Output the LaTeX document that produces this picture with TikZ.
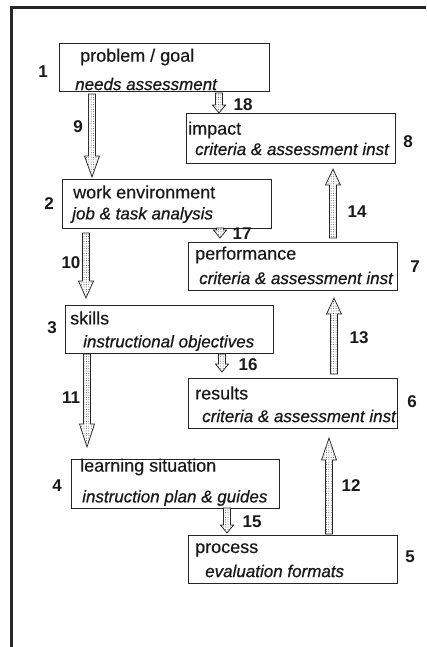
\documentclass[tikz,border=0pt]{standalone}
\usepackage{fontspec}
\setmainfont{Liberation Sans}
\newfontfamily\titlefont[FakeBold=0.25]{Liberation Sans}
\newfontfamily\subfont[ItalicFeatures={FakeBold=0.7}]{Liberation Sans}
\usetikzlibrary{patterns.meta,calc}

% Vertical block arrow with a stippled fill, from one node to another.
% #1 shaft half-width, #2 head half-width, #3 head length, #4 x position,
% #5 start anchor, #6 end anchor, #7 gap at start, #8 gap at tip
\newcommand\blockarrow[8]{%
  \path[stipplearrow] let \p1=(#5), \p2=(#6),
    \n1={ifthenelse(\y2>\y1,1,-1)},
    \n2={\y1+\n1*(#7pt)}, \n3={\y2-\n1*(#8pt)}, \n4={\n3-\n1*(#3pt)} in
    ({#4pt-#1pt},{\n2*1pt}) -- ({#4pt-#1pt},{\n4*1pt}) -- ({#4pt-#2pt},{\n4*1pt})
    -- ({#4pt},{\n3*1pt}) -- ({#4pt+#2pt},{\n4*1pt}) -- ({#4pt+#1pt},{\n4*1pt})
    -- ({#4pt+#1pt},{\n2*1pt}) -- cycle;}
\newcommand\bigarrow[6]{\blockarrow{3.6}{7.5}{#6}{#1}{#2}{#3}{#4}{#5}}
\newcommand\smallarrow[5]{\blockarrow{3.4}{6.5}{8}{#1}{#2}{#3}{#4}{#5}}

\begin{document}
\begin{tikzpicture}[x=1pt,y=-1pt,
  stagebox/.style args={#1x#2}{draw=black!85, line width=1.1pt, anchor=north west,
    inner sep=0pt, minimum width=#1pt, minimum height=#2pt},
  stipplearrow/.style={draw=black!85, line width=0.75pt, fill=white,
    postaction={pattern={Dots[distance=2.4pt,radius=0.5pt]}, pattern color=black!65}},
  title/.style={anchor=west, inner sep=0pt, text=black!90,
    font=\titlefont\fontsize{18}{20}\selectfont},
  subtitle/.style={anchor=west, inner sep=0pt, text=black!90,
    font=\subfont\fontsize{17}{19}\selectfont\itshape},
  num/.style={inner sep=0pt, text=black!90, font=\fontsize{17}{19}\selectfont\bfseries}]

\useasboundingbox (0,0) rectangle (426,647);
\fill[white] (0,0) rectangle (426,647);

% frame
\draw[line width=3pt, black!85] (11,647) -- (11,8) -- (426,8);

% stage boxes
\node[stagebox=210x48] (b1) at (59,43) {};
\node[stagebox=209x49] (b2) at (62,179) {};
\node[stagebox=208x48] (b3) at (65,305) {};
\node[stagebox=208x49] (b4) at (71,459) {};
\node[stagebox=209x48] (b5) at (188,535) {};
\node[stagebox=209x50] (b6) at (188,378) {};
\node[stagebox=209x48] (b7) at (188,242) {};
\node[stagebox=209x50] (b8) at (186,113) {};

% box texts
\node[title] (t1) at (80,57) {problem / goal};
\node[subtitle] (s1) at (75,84) {needs assessment};
\node[title] (t2) at (73,192) {work environment};
\node[subtitle] (s2) at (72,215) {job \& task analysis};
\node[title] (t3) at (70,318) {skills};
\node[subtitle] (s3) at (83,343) {instructional objectives};
\node[title] (t4) at (80,467) {learning situation};
\node[subtitle] (s4) at (82,498) {instruction plan \& guides};
\node[title] (t5) at (195,550) {process};
\node[subtitle] (s5) at (205,571) {evaluation formats};
\node[title] (t6) at (195,393) {results};
\node[subtitle] (s6) at (202,416) {criteria \& assessment inst};
\node[title] (t7) at (195,255) {performance};
\node[subtitle] (s7) at (199,278) {criteria \& assessment inst};
\node[title] (t8) at (188,130) {impact};
\node[subtitle] (s8) at (195,149) {criteria \& assessment inst};

% stage numbers
\node[num] (n1) at (43,72) {1};
\node[num] (n2) at (49,204) {2};
\node[num] (n3) at (52,328) {3};
\node[num] (n4) at (57,486) {4};
\node[num] (n5) at (410,557) {5};
\node[num] (n6) at (412,402) {6};
\node[num] (n7) at (415,267) {7};
\node[num] (n8) at (408,142) {8};

% planning arrows (down the left)
\bigarrow{92}{b1.south}{b2.north}{2}{2}{21}
\bigarrow{86}{b2.south}{b3.north}{4}{7}{17}
\bigarrow{87}{b3.south}{b4.north}{0}{12}{23}
% evaluation arrows (up the right)
\bigarrow{329}{b5.north}{b6.south}{1}{9}{22}
\bigarrow{334}{b6.north}{b7.south}{4}{7}{16}
\bigarrow{333}{b7.north}{b8.south}{4}{5}{16}
% links between the two columns
\smallarrow{227}{b4.south}{b5.north}{-1}{2}
\smallarrow{222}{b3.south}{b6.north}{0}{6}
\smallarrow{220}{b2.south}{b7.north}{-1}{4}
\smallarrow{219}{b1.south}{b8.north}{1}{0}

% arrow numbers
\node[num] (l9) at (78,127) {9};
\node[num] (l10) at (71,263) {10};
\node[num] (l11) at (71,398) {11};
\node[num] (l12) at (351,486) {12};
\node[num] (l13) at (359,338) {13};
\node[num] (l14) at (357,212) {14};
\node[num] (l15) at (252,522) {15};
\node[num] (l16) at (248,365) {16};
\node[num] (l17) at (242,234) {17};
\node[num] (l18) at (243,105) {18};
\end{tikzpicture}
\end{document}
